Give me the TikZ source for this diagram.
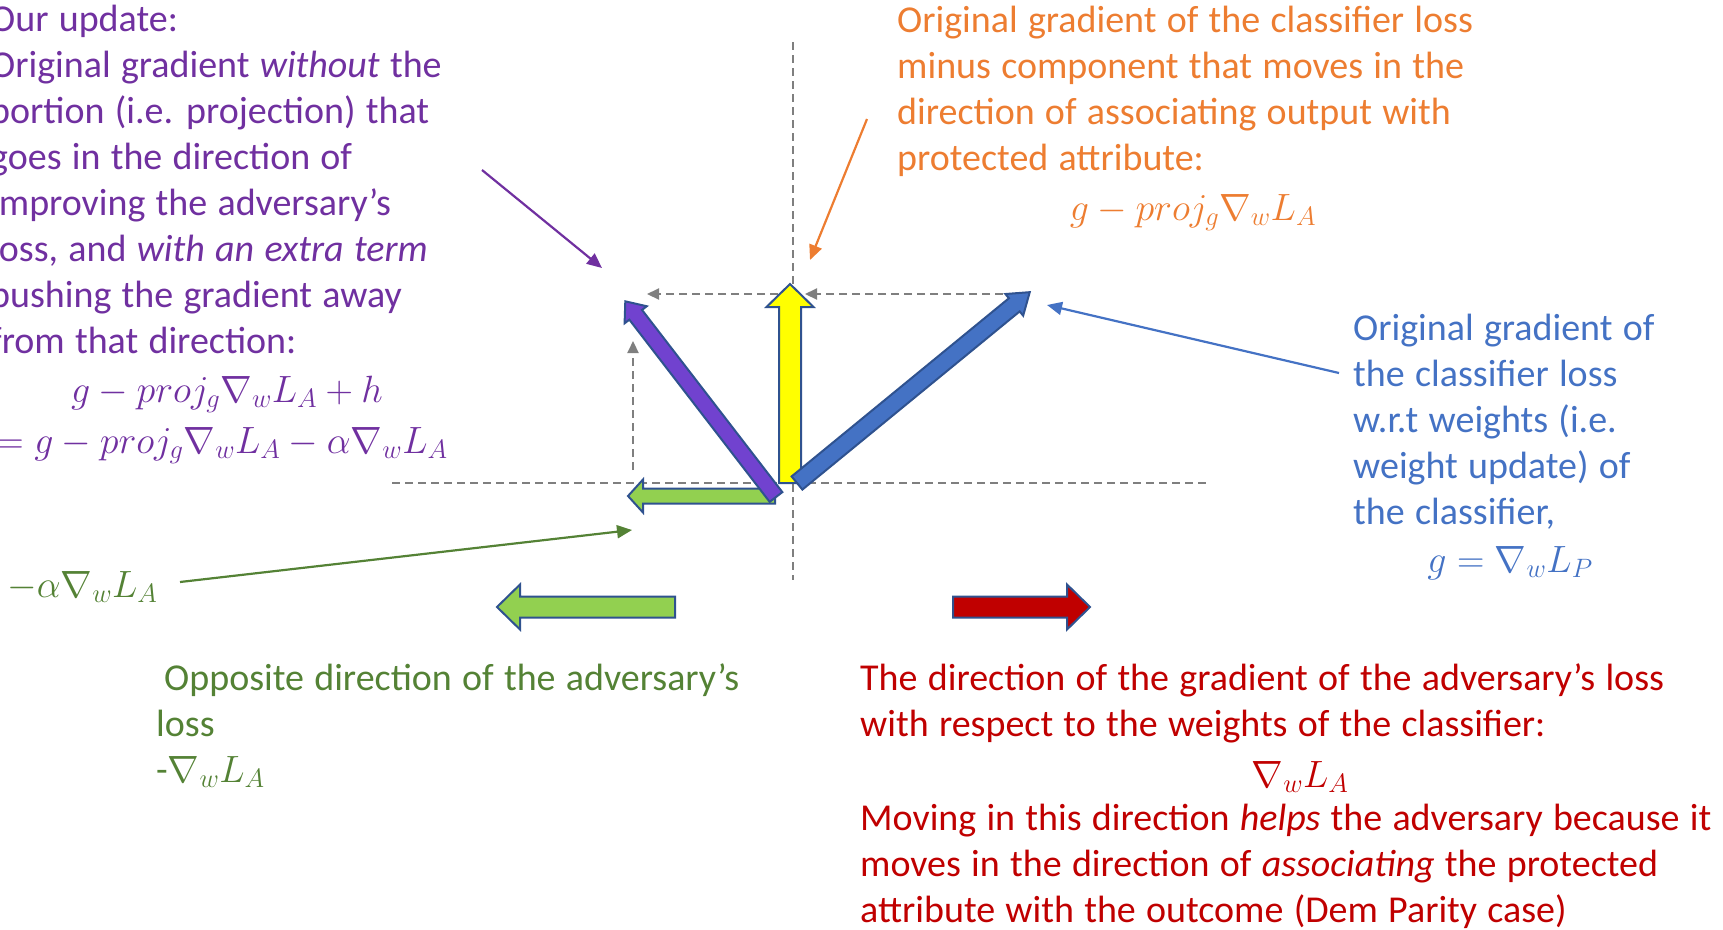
\RequirePackage{fix-cm}
\documentclass[tikz,border=0pt]{standalone}
\usepackage{fontspec}
\setmainfont{Carlito}
\usetikzlibrary{arrows.meta}
\definecolor{tpurple}{HTML}{7030A0}
\definecolor{torange}{HTML}{ED7D31}
\definecolor{tblue}{HTML}{4472C4}
\definecolor{tgreen}{HTML}{548235}
\definecolor{tred}{HTML}{C00000}
\definecolor{dgray}{HTML}{7F7F7F}
\definecolor{aborder}{HTML}{2F528F}
\definecolor{fyellow}{HTML}{FFFF00}
\definecolor{fgreen}{HTML}{92D050}
\definecolor{fblue}{HTML}{4472C4}
\definecolor{fpurple}{HTML}{7142CF}
\definecolor{fred}{HTML}{C00000}
\newcommand{\blockarr}[8]{%
  \begin{scope}[shift={(#2,#3)},rotate=#4]
    \draw[blockarrow,#1] (0,-#6) -- ({#5-#8},-#6) -- ({#5-#8},-#7) -- (#5,0)
      -- ({#5-#8},#7) -- ({#5-#8},#6) -- (0,#6) -- cycle;
  \end{scope}}
\newcommand{\wsp}{\spaceskip=0.27em plus 0.1em minus 0.05em\relax}
\tikzset{
  txt/.style={inner sep=0pt, anchor=north west, align=left, font=\fontsize{38}{46}\selectfont\wsp},
  mth/.style={inner sep=0pt, anchor=base, font=\fontsize{38}{46}\selectfont},
  axisline/.style={draw=dgray, line width=2.2pt, dash pattern=on 8pt off 5pt},
  dasharr/.style={axisline, -{Triangle[length=12pt,width=11pt]}},
  conn/.style={line width=2.2pt, -{Triangle[length=15pt,width=13pt]}},
  blockarrow/.style={draw=aborder, line width=2pt, line join=miter},
}
\begin{document}
\begin{tikzpicture}[x=1pt,y=-1pt]
\useasboundingbox (0,0) rectangle (1723,929);
% axes
\coordinate (vtop) at (793,42);
\coordinate (vbot) at (793,580);
\coordinate (hl) at (392,483);
\coordinate (hr) at (1207,483);
\draw[axisline] (vtop) -- (vbot);
\draw[axisline] (hl) -- (hr);
% dashed projection arrows
\coordinate (d1s) at (1003,294);
\coordinate (d1e) at (805,294);
\coordinate (d2s) at (778,294);
\coordinate (d2e) at (647,294);
\coordinate (d3s) at (633,470);
\coordinate (d3e) at (633,341);
\draw[dasharr] (d1s) -- (d1e);
\draw[dasharr] (d2s) -- (d2e);
\draw[dasharr] (d3s) -- (d3e);
% block arrows
\blockarr{fill=fgreen}{775}{496}{180}{147}{7.5}{16.5}{15}
\blockarr{fill=fyellow}{790}{483}{90}{199}{11}{23.5}{23}
\blockarr{fill=fblue}{797}{483}{39.35}{301}{8.5}{14}{20}
\blockarr{fill=fpurple}{776}{497}{127.6}{247}{8}{14}{17}
\blockarr{fill=fgreen}{675}{607}{180}{178}{10.5}{22.5}{23}
\blockarr{fill=fred}{953}{607}{0}{137}{10.5}{22.5}{23}
% connectors
\coordinate (os) at (867,119);
\coordinate (oe) at (810,260);
\coordinate (ps) at (482,170);
\coordinate (pe) at (602,268);
\coordinate (bs) at (1339,373);
\coordinate (be) at (1047,305);
\coordinate (gs) at (180,582);
\coordinate (ge) at (632,530);
\draw[conn, torange] (os) -- (oe);
\draw[conn, tpurple] (ps) -- (pe);
\draw[conn, tblue] (bs) -- (be);
\draw[conn, tgreen] (gs) -- (ge);
% purple text
\node[txt, text=tpurple] (ptxt) at (-10,-1.2) {\strut Our update:\\
Original gradient \textit{without} the\\
portion (i.e. projection) that\\
goes in the direction of\\
improving the adversary’s\\
loss, and \textit{with an extra term}\\
pushing the gradient away\\
from that direction:};
\node[mth, text=tpurple] (pm1) at (227,402) {$g - proj_g \nabla_w L_A + h$};
\node[mth, text=tpurple] (pm2) at (222,453) {$= g - proj_g \nabla_w L_A - \alpha\nabla_w L_A$};
% orange text
\node[txt, text=torange] (otxt) at (897,-0.2) {\strut Original gradient of the classifier loss\\
minus component that moves in the\\
direction of associating output with\\
protected attribute:};
\node[mth, text=torange] (om) at (1193,220) {$g - proj_g \nabla_w L_A$};
% blue text
\node[txt, text=tblue] (btxt) at (1353,307.8) {\strut Original gradient of\\
the classifier loss\\
w.r.t weights (i.e.\\
weight update) of\\
the classifier,};
\node[mth, text=tblue] (bm) at (1510,572) {$g = \nabla_w L_P$};
% green texts
\node[mth, anchor=base west, text=tgreen] (glab) at (7,597) {$-\alpha\nabla_w L_A$};
\node[txt, text=tgreen] (gtxt) at (156,657.8) {\strut\hspace{8pt}Opposite direction of the adversary’s\\
loss\\
-$\nabla_w L_A$};
% red text
\node[txt, text=tred] (rtxt1) at (860,657.8) {\strut The direction of the gradient of the adversary’s loss\\
with respect to the weights of the classifier:};
\node[mth, text=tred] (rm) at (1300,787) {$\nabla_w L_A$};
\node[txt, text=tred] (rtxt2) at (860,797.8) {\strut Moving in this direction \textit{helps} the adversary because it\\
moves in the direction of \textit{associating} the protected\\
attribute with the outcome (Dem Parity case)};
\end{tikzpicture}
\end{document}
